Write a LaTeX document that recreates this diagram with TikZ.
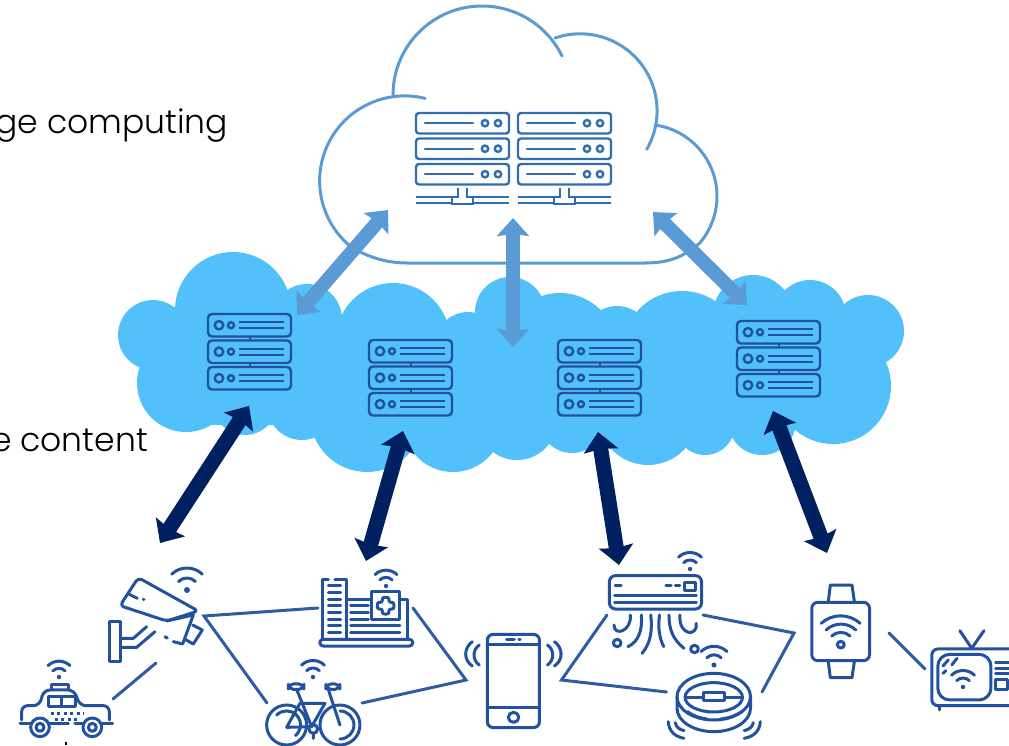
\documentclass[tikz,border=0pt]{standalone}
\usepackage{fontspec}
\setmainfont{Poppins Light}
\usetikzlibrary{arrows.meta}
\definecolor{coreblue}{HTML}{5B9BD5}
\definecolor{edgeblue}{HTML}{52C0FA}
\definecolor{navyblue}{HTML}{002060}
\definecolor{rackblue}{HTML}{2F6DAE}
\definecolor{iconblue}{HTML}{22529F}
\tikzset{
    iconline/.style={iconblue, line width=3pt, line cap=round, line join=round},
    linkline/.style={iconblue, line width=3pt, line cap=round, opacity=.95},
    coreline/.style={coreblue, line width=3pt, line cap=round},
    corearrow/.style={coreblue, line width=14pt, {Stealth[length=18pt,width=32pt,inset=2pt]}-{Stealth[length=18pt,width=32pt,inset=2pt]}},
    navyarrow/.style={navyblue, line width=15pt, {Stealth[length=19pt,width=34pt,inset=2pt]}-{Stealth[length=19pt,width=34pt,inset=2pt]}},
    iconsleft/.style={shift={(0,540)}, x=.3333pt, y=-.3333pt},
    iconsright/.style={shift={(460,540)}, x=.35pt, y=-.3333pt},
    pics/wifisig/.style={code={
        \fill[iconblue] (0,0) circle[radius=3];
        \draw[iconline] (225:12) arc[start angle=225, end angle=315, radius=12];
        \draw[iconline] (226:22) arc[start angle=226, end angle=314, radius=22];
    }},
    pics/corerack/.style={code={
        \foreach \rowy in {0,25.5,51}{
            \draw[rackblue, line width=2.4pt, rounded corners=3pt] (0,\rowy) rectangle ++(93,20.5);
            \draw[rackblue, line width=2.4pt, line cap=round] (9,\rowy+10.2) -- (57,\rowy+10.2);
            \draw[rackblue, line width=2.4pt] (69,\rowy+10.2) circle[radius=3.2] (82,\rowy+10.2) circle[radius=3.2];
        }
        \draw[rackblue, line width=2.2pt] (0,84) -- (36,84) (0,90) -- (36,90) (57,84) -- (93,84) (57,90) -- (93,90);
        \draw[rackblue, line width=2.2pt] (42,75) -- (42,84) -- (36,84) -- (36,91) -- (57,91) -- (57,84) -- (51,84) -- (51,75);
    }},
    pics/edgerack/.style={code={
        \foreach \rowy in {0,26.5,53}{
            \draw[iconblue, line width=2.4pt, rounded corners=4pt] (0,\rowy) rectangle ++(83,22.5);
            \draw[iconblue, line width=2.4pt] (11,\rowy+11.2) circle[radius=4.2] (23,\rowy+11.2) circle[radius=3];
            \draw[iconblue, line width=2.2pt] (31,\rowy+8.2) -- (76,\rowy+8.2) (31,\rowy+14.2) -- (76,\rowy+14.2);
        }
        \draw[iconblue, line width=2.2pt] (42,22.5) -- (42,26.5) (42,49) -- (42,53);
    }},
}
\begin{document}
\begin{tikzpicture}[x=1pt, y=-1pt]
    \path[use as bounding box, clip] (0,0) rectangle (1009,745);

    \node[anchor=base east, inner sep=0pt, font=\fontsize{33}{36}\selectfont] (EdgeLabel) at (228,133) {ge computing};
    \node[anchor=base east, inner sep=0pt, font=\fontsize{33}{36}\selectfont] (ContentLabel) at (148,451) {e content};
    \fill (64.5,742) rectangle (67,745);% cut off text under the taxi

    % upper cloud
    \draw[coreline] (393,95) arc[start angle=180, end angle=334, radius=89];
    \draw[coreline] (555,38) arc[start angle=251, end angle=390, radius=77];
    \draw[coreline] (655,125) arc[start angle=278, end angle=400, radius=72]
        .. controls (685,256) and (670,263) .. (645,263) -- (407,263)
        .. controls (385,263) and (365,256) .. (350,246);
    \draw[coreline] (350,246) arc[start angle=130, end angle=284, radius=85];

    % lower cloud
    \foreach \cx/\cy/\cr in {233/310/58, 153/335/35, 186/383/49, 307/319/35, 393/340/57, 468/345/33,
        510/312/35, 560/350/57, 617/340/34, 682/351/60, 753/315/40, 810/316/36, 868/331/36, 833/386/58,
        762/421/34, 705/425/30, 648/415/50, 572/420/33, 517/420/40, 453/422/50, 367/415/57, 302/405/35, 245/403/32}
        \fill[edgeblue] (\cx,\cy) circle[radius=\cr];
    \fill[edgeblue] (190,320) rectangle (860,425);

    \pic at (416,113) {corerack};
    \pic at (518,113) {corerack};
    \pic at (208,314) {edgerack};
    \pic at (369,340) {edgerack};
    \pic at (558,340) {edgerack};
    \pic at (737,321) {edgerack};

    \coordinate (CoreA) at (388,210);
    \coordinate (CoreB) at (513,218);
    \coordinate (CoreC) at (653,212);
    \coordinate (EdgeA) at (297,315);
    \coordinate (EdgeB) at (513,347);
    \coordinate (EdgeC) at (747,305);
    \draw[corearrow] (CoreA) -- (EdgeA);
    \draw[corearrow] (CoreB) -- (EdgeB);
    \draw[corearrow] (CoreC) -- (EdgeC);

    \coordinate (RackA) at (249,406);
    \coordinate (RackB) at (403,431);
    \coordinate (RackC) at (598,432);
    \coordinate (RackD) at (773,411);
    \coordinate (DeviceA) at (160,543);
    \coordinate (DeviceB) at (366,561);
    \coordinate (DeviceC) at (619,565);
    \coordinate (DeviceD) at (827,553);
    \draw[navyarrow] (RackA) -- (DeviceA);
    \draw[navyarrow] (RackB) -- (DeviceB);
    \draw[navyarrow] (RackC) -- (DeviceC);
    \draw[navyarrow] (RackD) -- (DeviceD);

    % links between devices
    \coordinate (TaxiEnd) at (113,699);
    \coordinate (CamLow) at (156,663);
    \coordinate (CamHub) at (204,616);
    \coordinate (HospLeft) at (318,608);
    \coordinate (HospRight) at (413,608);
    \coordinate (BikeLeft) at (267,703);
    \coordinate (BikeRight) at (362,703);
    \coordinate (PhoneLeft) at (466,680);
    \coordinate (PhoneRight) at (561.5,680);
    \coordinate (AirLeft) at (607,615);
    \coordinate (AirRight) at (703,615);
    \coordinate (RobotLeft) at (666.5,692);
    \coordinate (RobotRight) at (762,692);
    \coordinate (WatchLeft) at (794,633);
    \coordinate (WatchRight) at (889,633);
    \coordinate (TvLeft) at (925,669);
    \draw[linkline] (TaxiEnd) -- (CamLow);
    \draw[linkline] (HospLeft) -- (CamHub) -- (BikeLeft);
    \draw[linkline] (HospRight) -- (PhoneLeft) -- (BikeRight);
    \draw[linkline] (AirLeft) -- (PhoneRight) -- (RobotLeft);
    \draw[linkline] (AirRight) -- (WatchLeft) -- (RobotRight);
    \draw[linkline] (WatchRight) -- (TvLeft);

    \pic at (187,590) {wifisig};
    \pic[scale=.72] at (386,586) {wifisig};
    \pic[scale=.72] at (59,677) {wifisig};
    \pic[scale=.75] at (313,677) {wifisig};
    \pic[scale=.75] at (690,569) {wifisig};
    \pic[scale=.85] at (714,665) {wifisig};
    \pic[scale=.75] at (963,687) {wifisig};

    \begin{scope}[iconsleft]
        % camera
        \draw[iconline, rounded corners=4pt] (415,113) -- (595,213) -- (500,243) -- (360,197) -- cycle;
        \draw[iconline] (388,163) -- (412,175) (430,178) -- (432,178);
        \draw[iconline] (500,243) -- (580,225) -- (548,312) -- (520,305) (495,290) -- (502,294);
        \draw[iconline] (578,255) -- (607,270) -- (580,312) -- (555,298);
        \draw[iconline] (328,245) rectangle (362,365);
        \draw[iconline] (362,295) -- (400,295) -- (440,260) (362,322) -- (410,322) -- (465,275);
        % taxi
        \draw[iconline, rounded corners=6pt] (65,540) -- (65,497) -- (118,497) -- (132,450) -- (222,450) -- (240,497) -- (328,497) -- (328,540);
        \draw[iconline] (60,550) -- (92,550) (150,550) -- (205,550) (225,550) -- (248,550) (305,550) -- (338,550);
        \draw[iconline] (145,470) rectangle (228,500) (186,470) -- (186,500);
        \draw[iconline] (155,448) -- (155,435) -- (205,435) -- (205,448);
        \draw[iconline, dash pattern=on 3pt off 3.5pt, line cap=butt] (152,520) -- (250,520) (165,540) -- (240,540);
        \draw[iconline] (120,562) circle[radius=28] (120,562) circle[radius=12];
        \draw[iconline] (277,562) circle[radius=28] (277,562) circle[radius=12];
        % hospital
        \draw[iconline, rounded corners=3pt] (960,298) rectangle (1238,318);
        \draw[iconline] (968,298) -- (968,117) -- (985,117) (1005,117) -- (1040,117) -- (1040,298);
        \foreach \rowy in {137,157,...,277}
            \draw[iconline] (985,\rowy) -- (1022,\rowy);
        \draw[iconline] (1040,178) -- (1115,178) (1200,178) -- (1222,178) -- (1222,298);
        \draw[iconline] (1115,155) rectangle (1200,238);
        \draw[iconline, rounded corners=2pt] (1147,172) -- (1167,172) -- (1167,187) -- (1182,187) -- (1182,207) -- (1167,207) -- (1167,222) -- (1147,222) -- (1147,207) -- (1132,207) -- (1132,187) -- (1147,187) -- cycle;
        \draw[iconline] (1052,197) -- (1105,197) (1052,217) -- (1105,217) (1052,237) -- (1105,237) (1052,257) -- (1200,257) (1052,277) -- (1200,277);
        % bicycle
        \draw[iconline] (860,555) circle[radius=60] (1020,555) circle[radius=60];
        \draw[iconline] (830,525) arc[start angle=225, end angle=410, radius=42];
        \draw[iconline] (1020,513) arc[start angle=270, end angle=450, radius=42];
        \draw[iconline, rounded corners=5pt] (865,432) rectangle (912,448) (978,432) rectangle (1020,448);
        \draw[iconline] (890,448) -- (935,560) -- (860,562) -- (900,490) -- (975,490) -- (935,560);
        \draw[iconline] (985,448) -- (1020,555);
        \draw[iconline] (940,567) circle[radius=13] (940,580) -- (940,595);
    \end{scope}

    \begin{scope}[iconsright]
        % phone
        \draw[iconline, rounded corners=6pt] (78,283) rectangle (227,563);
        \draw[iconline] (78,313) -- (227,313) (78,503) -- (227,503);
        \draw[iconline] (133,299) -- (155,299) (168,299) -- (172,299);
        \draw[iconline] (153,532) circle[radius=15];
        \draw[iconline] (250,315) .. controls (270,330) and (270,360) .. (250,375);
        \draw[iconline] (270,305) .. controls (295,325) and (295,360) .. (270,378);
        \draw[iconline] (55,315) .. controls (35,330) and (35,360) .. (55,375);
        \draw[iconline] (35,305) .. controls (10,325) and (10,360) .. (35,378);
        % air conditioner
        \draw[iconline, rounded corners=6pt] (427,107) rectangle (690,207);
        \draw[iconline] (442,165) -- (675,165) (442,186) -- (675,186);
        \draw[iconline] (443,137) -- (460,137) (588,137) -- (603,137) (615,137) -- (628,137);
        \draw[iconline] (642,127) rectangle (672,150);
        \draw[iconline] (487,225) .. controls (490,275) and (440,290) .. (440,255);
        \draw[iconline] (449,309) circle[radius=11] (670,327) circle[radius=11];
        \draw[iconline] (518,225) .. controls (522,270) and (510,305) .. (480,320);
        \draw[iconline] (545,225) .. controls (550,270) and (545,310) .. (520,340);
        \draw[iconline] (570,225) .. controls (565,265) and (570,295) .. (582,320);
        \draw[iconline] (597,225) .. controls (597,270) and (610,300) .. (640,325);
        \draw[iconline] (628,225) .. controls (625,290) and (680,290) .. (675,250);
        % robot
        \draw[iconline] (725,470) circle[x radius=105, y radius=70] (725,472) circle[x radius=82, y radius=44];
        \draw[iconline] (645,472) -- (697,472) (755,472) -- (805,472);
        \draw[iconline] (697,458) rectangle (755,483);
        \draw[iconline] (620,470) -- (620,505) arc[start angle=180, end angle=0, x radius=105, y radius=70] -- (830,470);
        \draw[iconline] (650,515) .. controls (670,530) and (690,535) .. (705,537) (745,537) .. controls (770,535) and (790,525) .. (805,515);
        \draw[iconline] (595,545) .. controls (597,575) and (615,590) .. (640,595) (615,548) .. controls (617,560) and (625,568) .. (640,572);
        \draw[iconline] (858,545) .. controls (856,575) and (838,590) .. (812,595) (838,548) .. controls (836,560) and (828,568) .. (812,572);
        % watch
        \draw[iconline, rounded corners=6pt] (1005,187) rectangle (1170,362);
        \draw[iconline] (1052,187) -- (1058,135) -- (1120,135) -- (1127,187);
        \draw[iconline] (1052,362) -- (1058,413) -- (1120,413) -- (1127,362);
        \draw[iconline] (1088,314) circle[radius=10];
        \draw[iconline] (1062,288) arc[start angle=225, end angle=315, radius=37];
        \draw[iconline] (1046,270) arc[start angle=225, end angle=315, radius=60];
        \draw[iconline] (1032,250) arc[start angle=226, end angle=314, radius=80];
        % tv
        \draw[iconline, rounded corners=6pt] (1348,327) rectangle (1620,497);
        \draw[iconline, rounded corners=12pt] (1365,343) rectangle (1517,480);
        \draw[iconline] (1428,272) -- (1462,325) -- (1497,272);
        \draw[iconline] (1530,367) -- (1570,367) (1530,385) -- (1570,385) (1530,400) -- (1570,400);
        \draw[iconline] (1530,418) rectangle (1565,450);
        \draw[iconline] (1370,497) -- (1370,510);
        \draw[iconline] (1380,378) -- (1395,360) (1405,375) -- (1420,355) (1380,400) -- (1388,392);
    \end{scope}
\end{tikzpicture}
\end{document}
